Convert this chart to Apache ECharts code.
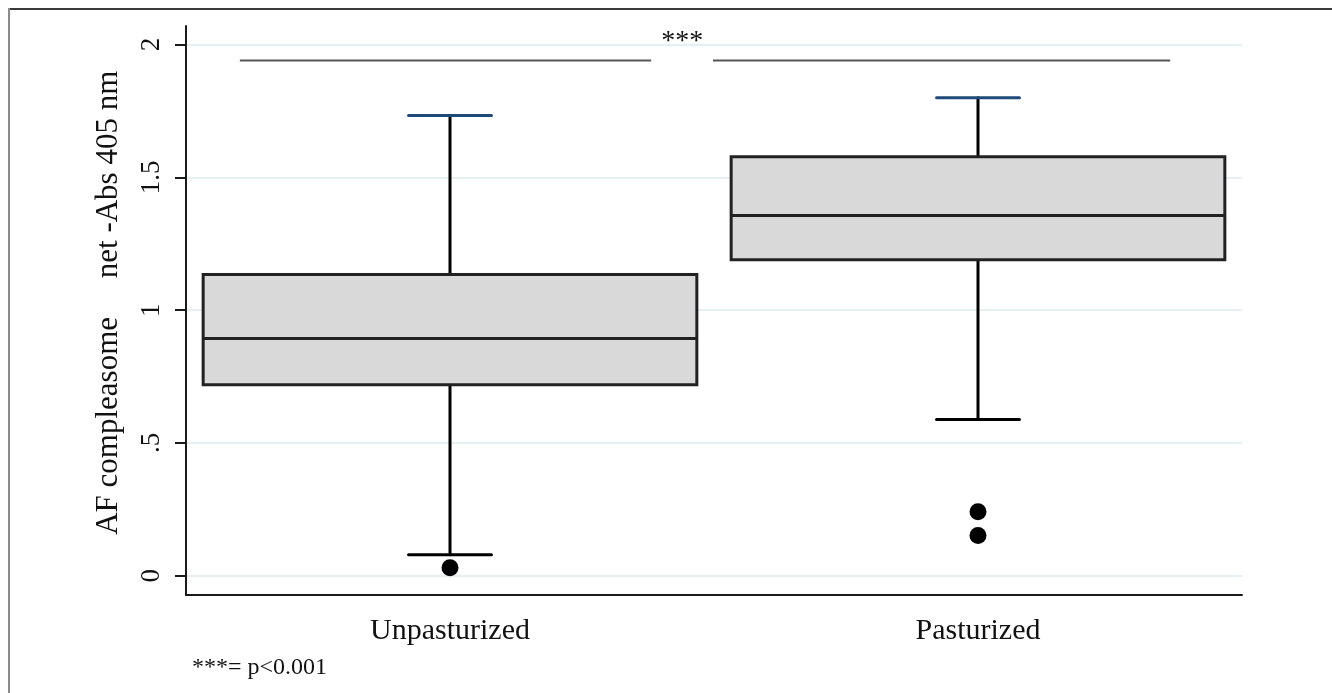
<!DOCTYPE html>
<html>
<head>
<meta charset="utf-8">
<script src="https://cdn.jsdelivr.net/npm/echarts@6/dist/echarts.min.js"></script>
<style>
  html, body { margin: 0; padding: 0; background: #fff; }
  #chart { position: absolute; left: 0; top: 0; width: 1332px; height: 693px; }
  .frameTop { position: absolute; left: 8px; top: 8px; width: 1324px; height: 2px; background: #3a3a3a; z-index: 2; }
  .frameLeft { position: absolute; left: 8px; top: 8px; width: 2px; height: 685px; background: #8a8a8a; z-index: 2; }
</style>
</head>
<body>
<div id="chart"></div>
<div class="frameTop"></div>
<div class="frameLeft"></div>
<script>
// groups
const categories = ['Unpasturized', 'Pasturized']
// box statistics
const lowerWhisker = [0.079, 0.588]
const q1 = [0.719, 1.190]
const median = [0.893, 1.356]
const q3 = [1.134, 1.578]
const upperWhisker = [1.733, 1.800]
// outliers: [group index, value]
const outliers = [[0, 0.030], [1, 0.241], [1, 0.151]]
// y ticks
const yTicks = [0, 0.5, 1, 1.5, 2]
// significance bracket (positions in category-index units)
const bracketValue = 1.94
const bracketSegs = [[-0.398, 0.381], [0.498, 1.364]]
const starsAt = [0.44, 2.01]

const serif = 'Liberation Serif'
const ink = '#1a1a1a'

const chart = echarts.init(document.getElementById('chart'))

const boxData = categories.map((c, i) => [i, lowerWhisker[i], q1[i], median[i], q3[i], upperWhisker[i]])

function renderBox(params, api) {
  const idx = api.value(0)
  const band = api.size([1, 0])[0]
  const boxW = band * 0.935
  const capW = band * 0.157
  const x = api.coord([idx, 0])[0]
  const yLow = api.coord([idx, api.value(1)])[1]
  const yQ1 = api.coord([idx, api.value(2)])[1]
  const yMed = api.coord([idx, api.value(3)])[1]
  const yQ3 = api.coord([idx, api.value(4)])[1]
  const yHigh = api.coord([idx, api.value(5)])[1]
  const line = (x1, y1, x2, y2, color) => ({
    type: 'line',
    shape: { x1, y1, x2, y2 },
    style: { stroke: color || '#000', lineWidth: 3, lineCap: 'round' }
  })
  return {
    type: 'group',
    children: [
      line(x, yQ1, x, yLow),
      line(x, yQ3, x, yHigh),
      line(x - capW / 2, yLow, x + capW / 2, yLow),
      line(x - capW / 2, yHigh, x + capW / 2, yHigh, '#1d4a78'),
      {
        type: 'rect',
        shape: { x: x - boxW / 2, y: yQ3, width: boxW, height: yQ1 - yQ3 },
        style: { fill: '#d9d9d9', stroke: '#222', lineWidth: 3 }
      },
      {
        type: 'line',
        shape: { x1: x - boxW / 2, y1: yMed, x2: x + boxW / 2, y2: yMed },
        style: { stroke: '#222', lineWidth: 3 }
      }
    ]
  }
}

const option = {
  animation: false,
  grid: { left: 186, right: 90, top: 26, bottom: 98 },
  xAxis: {
    type: 'category',
    data: categories,
    axisLine: { onZero: false, lineStyle: { color: ink, width: 2 } },
    axisTick: { alignWithLabel: true, length: 11, lineStyle: { color: ink, width: 2 } },
    axisLabel: { fontFamily: serif, fontSize: 30, color: '#111', margin: 21 }
  },
  yAxis: {
    type: 'value',
    min: -0.0727,
    max: 2.07,
    name: '\u00a0\u00a0AF compleasome\u00a0\u00a0\u00a0\u00a0\u00a0net -Abs 405 nm',
    nameLocation: 'middle',
    nameGap: 62,
    nameTextStyle: { fontFamily: serif, fontSize: 31, color: '#111' },
    axisLine: { show: true, lineStyle: { color: ink, width: 2 } },
    axisTick: { show: true, length: 11, customValues: yTicks, lineStyle: { color: ink, width: 2 } },
    axisLabel: {
      customValues: yTicks,
      rotate: 90,
      fontFamily: serif,
      fontSize: 27,
      color: '#111',
      margin: 21,
      formatter: v => (v > 0 && v < 1 ? String(v).replace(/^0/, '') : String(v))
    },
    splitLine: { show: true, lineStyle: { color: '#e6eff1', width: 2 } }
  },
  series: [
    {
      type: 'custom',
      renderItem: renderBox,
      encode: { x: 0, y: [1, 2, 3, 4, 5] },
      data: boxData,
      z: 2
    },
    {
      type: 'scatter',
      data: outliers,
      symbol: 'circle',
      symbolSize: 17,
      itemStyle: { color: '#000', opacity: 1 },
      z: 3
    }
  ]
}

option && chart.setOption(option)

// significance bracket and footnote, placed through the axes
const p0 = chart.convertToPixel({ gridIndex: 0 }, [0, bracketValue])
const p1 = chart.convertToPixel({ gridIndex: 0 }, [1, bracketValue])
const xAt = i => p0[0] + i * (p1[0] - p0[0])
const yStars = chart.convertToPixel({ gridIndex: 0 }, [0, starsAt[1]])[1]
chart.setOption({
  graphic: [
    ...bracketSegs.map(s => ({
      type: 'line',
      shape: { x1: xAt(s[0]), y1: p0[1], x2: xAt(s[1]), y2: p0[1] },
      style: { stroke: '#555', lineWidth: 2 }
    })),
    {
      type: 'text',
      x: xAt(starsAt[0]),
      y: yStars,
      style: { text: '***', font: '28px "Liberation Serif"', fill: '#111', align: 'center', verticalAlign: 'middle' }
    },
    {
      type: 'text',
      left: 192,
      top: 656,
      style: { text: '***= p<0.001', font: '24px "Liberation Serif"', fill: '#111' }
    }
  ]
})
</script>
</body>
</html>
